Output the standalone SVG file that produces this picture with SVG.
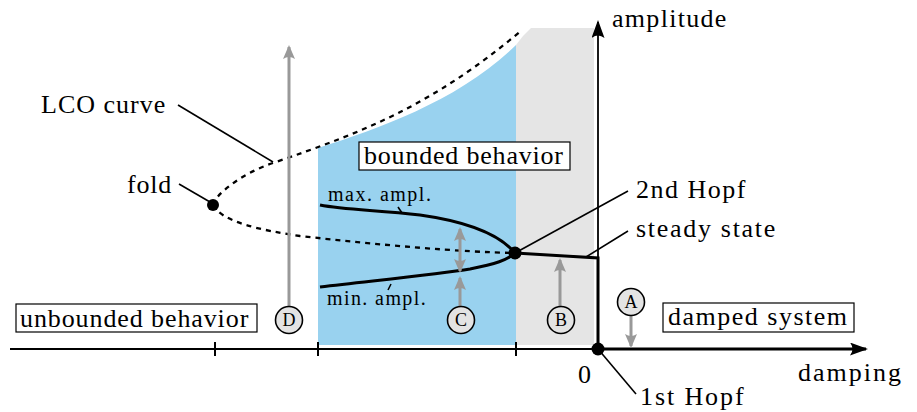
<svg xmlns="http://www.w3.org/2000/svg" width="917" height="412" viewBox="0 0 917 412" font-family="Liberation Serif, serif">
<defs>
<marker id="gah" viewBox="0 0 14 12" refX="12" refY="6" markerWidth="14" markerHeight="12" markerUnits="userSpaceOnUse" orient="auto-start-reverse">
<path d="M0,0 L14,6 L0,12 Q4,6 0,0 Z" fill="#999"/>
</marker>
<marker id="bah" viewBox="0 0 18 13" refX="16" refY="6.5" markerWidth="18" markerHeight="13" markerUnits="userSpaceOnUse" orient="auto">
<path d="M0,0 L18,6.5 L0,13 Q5,6.5 0,0 Z" fill="#000"/>
</marker>
</defs>
<rect width="917" height="412" fill="#fff"/>
<g id="regions">
<path d="M516,345 L516,45 Q523,35 531,28 L594,28 L594,345 Z" fill="#e5e5e5"/>
<path d="M318,148 C380,128 460,100 516,45 L516,345 L318,345 Z" fill="#99d2ef"/>
</g>
<g id="axes" stroke="#000">
<line x1="10" y1="349" x2="600" y2="349" stroke-width="2"/>
<line x1="598" y1="349" x2="866" y2="349" stroke-width="3.2" marker-end="url(#bah)"/>
<line x1="598" y1="349" x2="598" y2="22" stroke-width="1.8" marker-end="url(#bah)"/>
<line x1="215" y1="342" x2="215" y2="356" stroke-width="2"/>
<line x1="318" y1="342" x2="318" y2="356" stroke-width="2"/>
<line x1="516" y1="342" x2="516" y2="356" stroke-width="2"/>
</g>
<g id="curves" stroke="#000" fill="none">
<g stroke-width="2.3" stroke-dasharray="5 5">
<path d="M213,205 C214,196 240,174 273,163 C363,132 432,106 522,30"/>
<path d="M213,205 C222,222 260,230 300,236 C380,245 460,252 515,253"/>
</g>
<g stroke-width="3">
<path d="M320,205 C345,210 380,210 420,215 C470,222 500,235 515,253"/>
<path d="M320,287 C380,280 440,274 470,269 C495,264 508,260 515,253"/>
<path d="M515,253 L598,258 L598,349"/>
</g>
</g>
<g id="connectors" fill="none">
<g stroke="#000" stroke-width="1.6">
<line x1="178" y1="105" x2="273" y2="162"/>
<line x1="179" y1="184" x2="210" y2="202"/>
<line x1="515" y1="253" x2="628" y2="191"/>
<line x1="586" y1="257" x2="628" y2="231"/>
<line x1="598" y1="349" x2="636" y2="394"/>
<line x1="398" y1="207" x2="402" y2="213"/>
<line x1="391" y1="284" x2="388" y2="290"/>
</g>
<g stroke="#999" stroke-width="3">
<line x1="289" y1="306" x2="289" y2="47" marker-end="url(#gah)"/>
<line x1="460" y1="306" x2="460" y2="278" marker-end="url(#gah)"/>
<line x1="460" y1="229" x2="460" y2="271" marker-start="url(#gah)" marker-end="url(#gah)"/>
<line x1="560" y1="306" x2="560" y2="260" marker-end="url(#gah)"/>
<line x1="631" y1="316" x2="631" y2="346" marker-end="url(#gah)"/>
</g>
</g>
<g id="points" fill="#000">
<circle cx="213" cy="205" r="6"/>
<circle cx="515" cy="253" r="6.5"/>
<circle cx="598" cy="349" r="6.5"/>
</g>
<g id="node-D"><circle fill="#e3e3e3" stroke="#000" stroke-width="1.6" cx="289" cy="320" r="13.5"/><text font-family="Liberation Serif, serif" font-size="18" x="289" y="326" text-anchor="middle">D</text></g>
<g id="node-C"><circle fill="#e3e3e3" stroke="#000" stroke-width="1.6" cx="461" cy="320" r="13.5"/><text font-family="Liberation Serif, serif" font-size="18" x="461" y="326" text-anchor="middle">C</text></g>
<g id="node-B"><circle fill="#e3e3e3" stroke="#000" stroke-width="1.6" cx="561" cy="320" r="13.5"/><text font-family="Liberation Serif, serif" font-size="18" x="561" y="326" text-anchor="middle">B</text></g>
<g id="node-A"><circle fill="#e3e3e3" stroke="#000" stroke-width="1.6" cx="631" cy="302" r="13.5"/><text font-family="Liberation Serif, serif" font-size="18" x="631" y="308" text-anchor="middle">A</text></g>
<g id="box-unbounded"><rect fill="#fff" stroke="#000" stroke-width="1.2" x="16" y="304" width="241" height="28"/><text font-family="Liberation Serif, serif" font-size="26" letter-spacing="0.9" x="20" y="327">unbounded behavior</text></g>
<g id="box-bounded"><rect fill="#fff" stroke="#000" stroke-width="1.2" x="359" y="142" width="211" height="28"/><text font-family="Liberation Serif, serif" font-size="26" letter-spacing="0.8" x="364" y="164">bounded behavior</text></g>
<g id="box-damped"><rect fill="#fff" stroke="#000" stroke-width="1.2" x="663" y="303" width="191" height="29"/><text font-family="Liberation Serif, serif" font-size="26" letter-spacing="1.5" x="668" y="325">damped system</text></g>
<g id="labels" font-family="Liberation Serif, serif" font-size="26">
<text x="612" y="27" letter-spacing="1.3">amplitude</text>
<text x="41" y="113" letter-spacing="1">LCO curve</text>
<text x="127" y="193" letter-spacing="0.8">fold</text>
<text font-size="20" x="328" y="201" letter-spacing="1.5">max. ampl.</text>
<text font-size="20" x="327" y="305" letter-spacing="1.4">min. ampl.</text>
<text x="636" y="198" letter-spacing="1.5">2nd Hopf</text>
<text x="636" y="237" letter-spacing="1.7">steady state</text>
<text x="578" y="383">0</text>
<text x="798" y="381" letter-spacing="2">damping</text>
<text x="640" y="405" letter-spacing="1.9">1st Hopf</text>
</g>
</svg>
